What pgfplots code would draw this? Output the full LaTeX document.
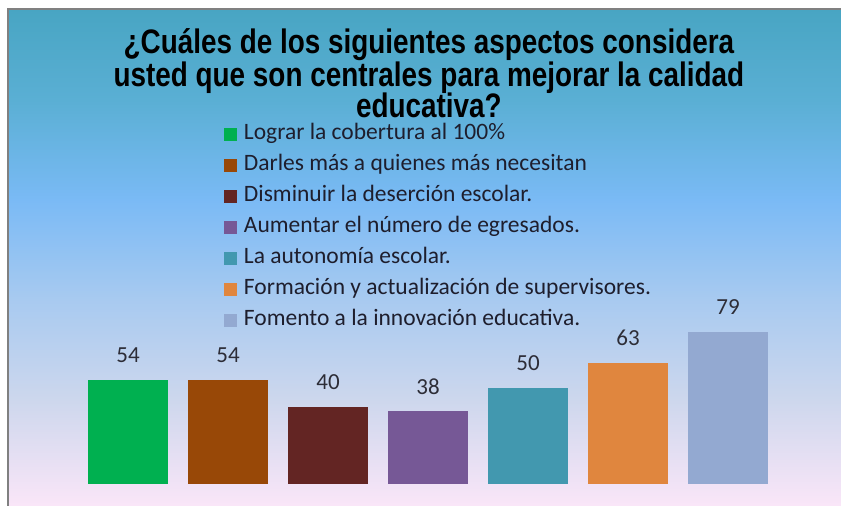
\documentclass[border=0pt]{standalone}
\usepackage{fontspec}
\setmainfont{Carlito}
\newfontfamily\titlefont[FakeStretch=0.82]{Liberation Sans}
\usepackage{pgfplots}
\pgfplotsset{compat=1.18}
\definecolor{c1}{RGB}{0,176,80}
\definecolor{c2}{RGB}{152,72,7}
\definecolor{c3}{RGB}{99,37,35}
\definecolor{c4}{RGB}{118,88,150}
\definecolor{c5}{RGB}{66,152,175}
\definecolor{c6}{RGB}{224,134,62}
\definecolor{c7}{RGB}{147,169,209}
\definecolor{g0}{RGB}{250,230,248}
\definecolor{g1}{RGB}{205,215,237}
\definecolor{g2}{RGB}{168,202,240}
\definecolor{g3}{RGB}{122,186,245}
\definecolor{g4}{RGB}{90,175,212}
\definecolor{g5}{RGB}{72,165,195}
\definecolor{legtext}{RGB}{30,30,45}
\definecolor{valtext}{RGB}{45,45,55}
\definecolor{border}{RGB}{128,128,128}
\begin{document}
\begin{tikzpicture}
\fill[white] (0pt,0pt) rectangle (841pt,506pt);
\shade[bottom color=g0, top color=g1] (8pt,0pt) rectangle (841pt,106.5pt);
\shade[bottom color=g1, top color=g2] (8pt,106pt) rectangle (841pt,206.5pt);
\shade[bottom color=g2, top color=g3] (8pt,206pt) rectangle (841pt,306.5pt);
\shade[bottom color=g3, top color=g4] (8pt,306pt) rectangle (841pt,406.5pt);
\shade[bottom color=g4, top color=g5] (8pt,406pt) rectangle (841pt,497pt);
\fill[border] (6.5pt,0pt) rectangle (8.5pt,497pt);
\fill[border] (6.5pt,495.5pt) rectangle (841pt,497.5pt);
\begin{axis}[
  at={(0pt,0pt)}, anchor=south west,
  scale only axis, width=841pt, height=506pt,
  hide axis, clip=false,
  xmin=-1.28, xmax=7.13, ymin=-11.43, ymax=251.6,
  ybar, bar width=80pt,
  /pgf/number format/assume math mode=true,
  nodes near coords,
  every node near coord/.append style={anchor=center, yshift=24.5pt, inner sep=0pt,
     font=\fontsize{23}{28}\selectfont, text=valtext},
  legend style={at={(0.2663,0.7540)}, anchor=north west, draw=none, fill=none,
     inner sep=0pt, outer sep=0pt, row sep=11pt, column sep=6.5pt,
     font=\fontsize{23.5}{28}\selectfont, text=legtext,
     nodes={inner sep=0pt, text height=15pt, text depth=5pt}},
  legend cell align=left,
  legend image code/.code={\fill[#1] (0pt,-6.5pt) rectangle (13.5pt,6.5pt);},
]
\addplot[fill=c1, draw=none, bar shift=0pt] coordinates {(0,54)};
\addlegendentry{Lograr la cobertura al 100\%}
\addplot[fill=c2, draw=none, bar shift=0pt] coordinates {(1,54)};
\addlegendentry{Darles más a quienes más necesitan}
\addplot[fill=c3, draw=none, bar shift=0pt] coordinates {(2,40)};
\addlegendentry{Disminuir la deserción escolar.}
\addplot[fill=c4, draw=none, bar shift=0pt] coordinates {(3,38)};
\addlegendentry{Aumentar el número de egresados.}
\addplot[fill=c5, draw=none, bar shift=0pt] coordinates {(4,50)};
\addlegendentry{La autonomía escolar.}
\addplot[fill=c6, draw=none, bar shift=0pt] coordinates {(5,63)};
\addlegendentry{Formación y actualización de supervisores.}
\addplot[fill=c7, draw=none, bar shift=0pt] coordinates {(6,79)};
\addlegendentry{Fomento a la innovación educativa.}
\node[anchor=base, inner sep=0pt, font=\titlefont\bfseries\fontsize{34}{40}\selectfont] at (rel axis cs:0.51,0.8933) {¿Cuáles de los siguientes aspectos considera};
\node[anchor=base, inner sep=0pt, font=\titlefont\bfseries\fontsize{34}{40}\selectfont] at (rel axis cs:0.51,0.8290) {usted que son centrales para mejorar la calidad};
\node[anchor=base, inner sep=0pt, font=\titlefont\bfseries\fontsize{34}{40}\selectfont] at (rel axis cs:0.51,0.7668) {educativa?};
\end{axis}
\end{tikzpicture}
\end{document}
